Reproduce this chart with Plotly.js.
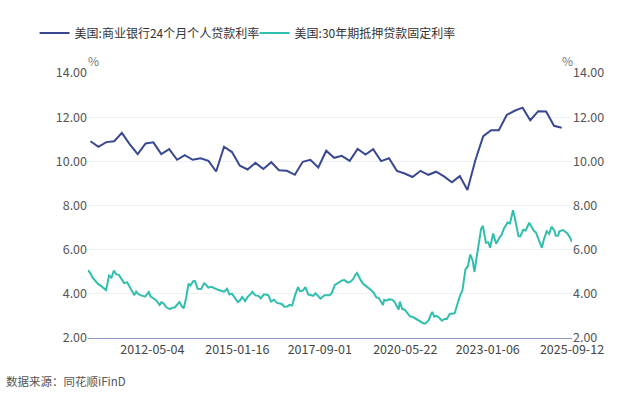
<!DOCTYPE html>
<html>
<head>
<meta charset="utf-8">
<script src="https://cdn.plot.ly/plotly-3.0.1.min.js"></script>
<style>html,body{margin:0;padding:0;background:#fff;}#chart{width:640px;height:394px;}</style>
</head>
<body>
<div id="chart"></div>
<script>
// 美国:商业银行24个月个人贷款利率 (quarterly)
const loanDates = [
"2010-05-15","2010-08-15","2010-11-15","2011-02-15","2011-05-15","2011-08-15","2011-11-15",
"2012-02-15","2012-05-15","2012-08-15","2012-11-15","2013-02-15","2013-05-15","2013-08-15","2013-11-15",
"2014-02-15","2014-05-15","2014-08-15","2014-11-15","2015-02-15","2015-05-15","2015-08-15","2015-11-15",
"2016-02-15","2016-05-15","2016-08-15","2016-11-15","2017-02-15","2017-05-15","2017-08-15","2017-11-15",
"2018-02-15","2018-05-15","2018-08-15","2018-11-15","2019-02-15","2019-05-15","2019-08-15","2019-11-15",
"2020-02-15","2020-05-15","2020-08-15","2020-11-15","2021-02-15","2021-05-15","2021-08-15","2021-11-15",
"2022-02-15","2022-05-15","2022-08-15","2022-11-15","2023-02-15","2023-05-15","2023-08-15","2023-11-15",
"2024-02-15","2024-05-15","2024-08-15","2024-11-15","2025-02-15","2025-05-15"];
const loanRates = [
10.91,10.66,10.87,10.91,11.29,10.77,10.33,
10.81,10.86,10.33,10.55,10.07,10.28,10.07,10.14,
10.02,9.54,10.66,10.42,9.80,9.63,9.93,9.65,
9.96,9.60,9.57,9.39,9.98,10.07,9.72,10.48,
10.16,10.25,10.02,10.56,10.31,10.55,10.01,10.14,
9.57,9.45,9.29,9.57,9.39,9.53,9.32,9.05,
9.33,8.70,10.05,11.14,11.41,11.41,12.10,12.29,
12.43,11.86,12.27,12.26,11.61,11.52];

// 美国:30年期抵押贷款固定利率
const mortDates = [
"2010-04-16","2010-05-14","2010-06-11","2010-07-16","2010-08-13","2010-09-10","2010-10-08","2010-11-12","2010-12-17",
"2011-01-14","2011-02-11","2011-03-11","2011-04-08","2011-05-13","2011-06-10","2011-07-15","2011-08-12","2011-09-09","2011-10-07","2011-10-28","2011-11-18","2011-12-16",
"2012-01-13","2012-02-10","2012-03-23","2012-04-13","2012-05-18","2012-06-15","2012-07-27","2012-08-17","2012-09-14","2012-10-12","2012-11-23","2012-12-21",
"2013-01-18","2013-02-15","2013-03-15","2013-04-12","2013-05-03","2013-05-31","2013-06-28","2013-07-19","2013-08-23","2013-09-13","2013-10-11","2013-11-22","2013-12-27",
"2014-01-17","2014-02-14","2014-03-21","2014-04-18","2014-05-16","2014-06-13","2014-07-18","2014-08-15","2014-09-19","2014-10-17","2014-11-14","2014-12-19",
"2015-01-23","2015-02-13","2015-03-13","2015-04-17","2015-05-15","2015-06-26","2015-07-10","2015-08-14","2015-09-18","2015-10-16","2015-11-20","2015-12-18",
"2016-01-15","2016-02-12","2016-03-18","2016-04-22","2016-05-20","2016-06-17","2016-07-15","2016-08-19","2016-09-16","2016-10-14","2016-11-18","2016-12-23",
"2017-01-13","2017-02-17","2017-03-17","2017-04-21","2017-05-19","2017-06-16","2017-07-14","2017-08-18","2017-09-08","2017-10-27","2017-11-17","2017-12-22",
"2018-01-19","2018-02-23","2018-03-16","2018-04-27","2018-05-18","2018-06-15","2018-07-20","2018-08-17","2018-09-21","2018-10-19","2018-11-09","2018-12-21",
"2019-01-18","2019-02-15","2019-03-22","2019-04-19","2019-05-17","2019-06-21","2019-07-19","2019-08-16","2019-09-06","2019-09-20","2019-10-18","2019-11-15","2019-12-20",
"2020-01-17","2020-02-14","2020-03-06","2020-03-20","2020-04-17","2020-05-15","2020-06-19","2020-07-17","2020-08-14","2020-09-18","2020-10-16","2020-11-20","2020-12-18",
"2021-01-08","2021-02-19","2021-03-19","2021-04-02","2021-04-23","2021-05-21","2021-06-18","2021-07-23","2021-08-20","2021-09-17","2021-10-22","2021-11-19","2021-12-17",
"2022-01-21","2022-02-18","2022-03-18","2022-04-22","2022-05-20","2022-06-17","2022-07-15","2022-08-05","2022-08-26","2022-09-23","2022-10-21","2022-11-11","2022-12-16",
"2023-01-13","2023-02-03","2023-03-10","2023-04-14","2023-05-26","2023-06-16","2023-07-14","2023-08-25","2023-09-22","2023-10-27","2023-11-17","2023-12-29",
"2024-01-19","2024-02-23","2024-03-22","2024-05-03","2024-05-31","2024-06-21","2024-07-19","2024-08-16","2024-09-27","2024-10-18","2024-11-22","2024-12-20",
"2025-01-17","2025-02-21","2025-03-07","2025-04-04","2025-04-18","2025-05-30","2025-06-20","2025-07-18","2025-08-15","2025-09-12"];
const mortRates = [
5.07,4.93,4.72,4.57,4.44,4.37,4.27,4.17,4.83,
4.74,5.05,4.88,4.87,4.63,4.49,4.52,4.32,4.12,3.94,4.10,4.00,3.94,
3.89,3.87,4.08,3.88,3.79,3.71,3.49,3.62,3.55,3.39,3.31,3.37,
3.38,3.53,3.63,3.43,3.35,3.81,4.46,4.37,4.58,4.57,4.23,4.22,4.48,
4.41,4.28,4.32,4.27,4.20,4.17,4.13,4.10,4.23,3.97,4.01,3.80,
3.63,3.69,3.86,3.67,3.85,4.02,4.09,3.93,3.91,3.79,3.97,3.97,
3.92,3.65,3.73,3.59,3.58,3.54,3.42,3.43,3.50,3.47,3.94,4.30,
4.12,4.15,4.30,3.97,3.95,3.91,4.03,3.89,3.78,3.94,3.95,3.94,
4.04,4.40,4.45,4.58,4.61,4.62,4.52,4.53,4.65,4.85,4.94,4.62,
4.45,4.37,4.28,4.17,4.07,3.84,3.81,3.60,3.49,3.73,3.69,3.75,3.73,
3.65,3.47,3.29,3.65,3.31,3.28,3.13,2.98,2.96,2.87,2.81,2.72,2.67,
2.65,2.81,3.09,3.18,2.97,3.00,2.93,2.78,2.86,2.86,3.09,3.10,3.12,
3.56,3.92,4.16,5.11,5.25,5.78,5.51,4.99,5.55,6.29,6.94,7.08,6.31,
6.33,6.09,6.73,6.27,6.57,6.67,6.96,7.23,7.19,7.79,7.44,6.61,
6.60,6.90,6.87,7.22,7.03,6.87,6.78,6.49,6.08,6.44,6.84,6.72,
7.04,6.85,6.63,6.64,6.83,6.89,6.81,6.75,6.58,6.35];

const tickDates = ["2012-05-04","2015-01-16","2017-09-01","2020-05-22","2023-01-06","2025-09-12"];
const yTicks = [2,4,6,8,10,12,14];

const FONT = '"Noto Sans CJK SC", "Noto Sans", sans-serif';

const traces = [
  {x: loanDates, y: loanRates, type: 'scatter', mode: 'lines', name: '美国:商业银行24个月个人贷款利率',
   line: {color: '#3a4894', width: 2}, yaxis: 'y'},
  {x: mortDates, y: mortRates, type: 'scatter', mode: 'lines', name: '美国:30年期抵押贷款固定利率',
   line: {color: '#30bfad', width: 2}, yaxis: 'y2'}
];

const layout = {
  width: 640, height: 394,
  margin: {l: 88, r: 68, t: 73, b: 56, autoexpand: false},
  paper_bgcolor: '#ffffff', plot_bgcolor: '#ffffff',
  font: {family: FONT, size: 12, color: '#444'},
  showlegend: true,
  legend: {orientation: 'h', xref: 'container', x: 0.054, xanchor: 'left',
           yref: 'container', y: 0.916, yanchor: 'middle',
           font: {family: FONT, size: 12, color: '#333'}, itemwidth: 30,
           entrywidth: 175, entrywidthmode: 'pixels', bgcolor: 'rgba(0,0,0,0)'},
  xaxis: {type: 'date', range: ['2010-04-16', '2025-09-12'],
          tickvals: tickDates, ticktext: tickDates, showgrid: false,
          showline: true, linecolor: '#8d97c7', linewidth: 1.2, ticks: '', zeroline: false,
          tickfont: {family: FONT, size: 12.5, color: '#444'}},
  yaxis: {range: [2, 14], tickvals: yTicks, tickformat: '.2f', showgrid: true, gridcolor: '#eef0f7',
          zeroline: false, showline: false, ticks: '', ticklen: 0,
          tickfont: {family: FONT, size: 12.5, color: '#555'}},
  yaxis2: {range: [2, 14], tickvals: yTicks, tickformat: '.2f', overlaying: 'y', side: 'right',
           showgrid: false, zeroline: false, showline: false, ticks: '',
           tickfont: {family: FONT, size: 12.5, color: '#555'}},
  annotations: [
    {text: '%', xref: 'paper', yref: 'paper', x: 0, y: 1, xanchor: 'center', xshift: 5, yshift: 23, showarrow: false,
     font: {family: FONT, size: 12, color: '#777'}},
    {text: '%', xref: 'paper', yref: 'paper', x: 1, y: 1, xanchor: 'center', xshift: -5, yshift: 23, showarrow: false,
     font: {family: FONT, size: 12, color: '#777'}},
    {text: '数据来源：同花顺iFinD', xref: 'paper', yref: 'paper', x: 0, y: 0, xanchor: 'left', yanchor: 'middle',
     xshift: -84, yshift: -43, showarrow: false, font: {family: FONT, size: 11.5, color: '#555'}}
  ]
};

Plotly.newPlot('chart', traces, layout, {displayModeBar: false, staticPlot: true});
</script>
</body>
</html>
